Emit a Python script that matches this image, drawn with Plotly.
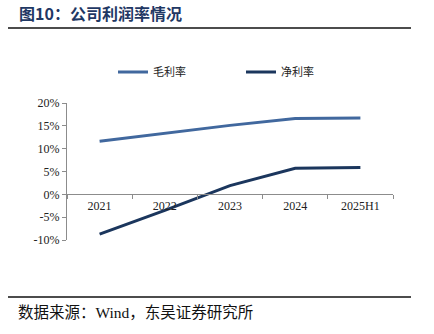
import plotly.graph_objects as go

categories = ["2021", "2022", "2023", "2024", "2025H1"]
gross_margin = [11.6, 13.3, 15.1, 16.6, 16.7]
net_margin = [-8.7, -3.5, 1.9, 5.7, 5.9]
series_names = ["毛利率", "净利率"]
y_ticks = [-10, -5, 0, 5, 10, 15, 20]
y_tick_text = [f"{v}%" for v in y_ticks]

W, H = 434, 334
L, R, T, B = 67, 41, 103, 94
ymin, ymax = -10, 20
zero_pos = (0 - ymin) / (ymax - ymin)
PW, PH = W - L - R, H - T - B

serif = "Liberation Serif, Times New Roman, Noto Sans CJK SC, serif"

fig = go.Figure()
fig.add_trace(go.Scatter(x=categories, y=gross_margin, mode="lines", name=series_names[0],
                         line=dict(color="#41689E", width=3)))
fig.add_trace(go.Scatter(x=categories, y=net_margin, mode="lines", name=series_names[1],
                         line=dict(color="#1B365D", width=3)))

fig.update_layout(
    width=W, height=H,
    margin=dict(l=L, r=R, t=T, b=B),
    paper_bgcolor="white", plot_bgcolor="white",
    font=dict(family=serif, size=12, color="#222"),
    showlegend=True,
    legend=dict(orientation="h", x=(113 - L) / PW, y=1 + (T - 72) / PH,
                xanchor="left", yanchor="middle",
                entrywidth=83, entrywidthmode="pixels",
                font=dict(family="Noto Sans CJK SC", size=11, color="#222"),
                bgcolor="rgba(0,0,0,0)"),
    xaxis=dict(type="category", range=[-0.5, 4.5], anchor="free", position=zero_pos,
               showline=True, linecolor="#8c8c8c", linewidth=1,
               ticks="outside", tickson="boundaries", ticklen=4, tickcolor="#8c8c8c",
               showgrid=False, zeroline=False,
               tickfont=dict(family=serif, size=12, color="#222")),
    yaxis=dict(range=[ymin, ymax], tickvals=y_ticks, ticktext=y_tick_text,
               showline=True, linecolor="#8c8c8c", linewidth=1,
               ticks="outside", ticklen=4, tickcolor="#8c8c8c",
               showgrid=False, zeroline=False,
               tickfont=dict(family=serif, size=12, color="#222")),
)

# Title and frame rules
fig.add_annotation(text="<b>图10：公司利润率情况</b>", xref="paper", yref="paper",
                   x=(17 - L) / PW, y=1 + (T - 13) / PH,
                   xanchor="left", yanchor="middle", showarrow=False,
                   font=dict(family="Noto Sans CJK SC", size=16, color="#1F3864"))
fig.add_shape(type="line", xref="paper", yref="paper",
              x0=(8 - L) / PW, x1=(411 - L) / PW,
              y0=1 + (T - 28) / PH, y1=1 + (T - 28) / PH,
              line=dict(color="#111", width=1.5))
fig.add_shape(type="line", xref="paper", yref="paper",
              x0=(8 - L) / PW, x1=(411 - L) / PW,
              y0=-(297 - (H - B)) / PH, y1=-(297 - (H - B)) / PH,
              line=dict(color="#111", width=1.5))
fig.add_annotation(text="数据来源：Wind，东吴证券研究所", xref="paper", yref="paper",
                   x=(16 - L) / PW, y=-(312 - (H - B)) / PH,
                   xanchor="left", yanchor="middle", showarrow=False,
                   font=dict(family="Liberation Serif, Noto Sans CJK SC", size=15.5, color="#111"))

fig.write_html("out.html")
